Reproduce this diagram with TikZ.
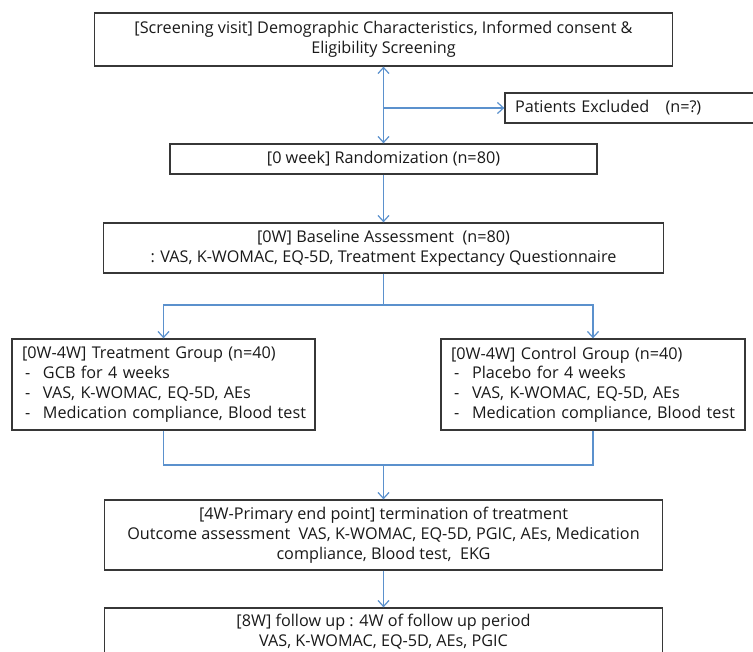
\documentclass[tikz,border=0pt]{standalone}
\usepackage{fontspec}
\setmainfont{Open Sans}
\usetikzlibrary{arrows.meta}
\definecolor{conn}{RGB}{91,145,205}
\definecolor{boxline}{RGB}{55,55,55}
\definecolor{txt}{RGB}{25,25,25}
\tikzset{
  box/.style={draw=boxline, line width=1.3pt, inner sep=0pt, text=txt,
    font=\fontsize{16.2}{19.8}\selectfont, align=center},
  lbox/.style={box, align=left, inner xsep=10pt},
  conline/.style={draw=conn, line width=1.2pt},
  arr/.style={conline, -{Straight Barb[length=6pt,width=11pt,line width=1.2pt]}},
  darr/.style={conline, {Straight Barb[length=6pt,width=11pt,line width=1.2pt]}-{Straight Barb[length=6pt,width=11pt,line width=1.2pt]}}
}
\newcommand{\itm}[1]{\mbox{\makebox[21pt][l]{\hspace{3pt}-}#1}}
\begin{document}
\begin{tikzpicture}[x=1pt,y=-1pt]
\useasboundingbox (0,0) rectangle (753,652);
\node[box, minimum width=578pt, minimum height=53pt] (top) at (383.5,39.5)
  {[Screening visit] Demographic Characteristics, Informed consent \&\\Eligibility Screening};
\node[lbox, text width=275pt, minimum height=30pt] (excl) at (652.5,108)
  {Patients Excluded \ \ (n=?)};
\node[box, minimum width=427pt, minimum height=30pt] (rand) at (383.5,159)
  {[0 week] Randomization (n=80)};
\node[box, minimum width=560pt, minimum height=50pt] (base) at (383.5,248)
  {[0W] Baseline Assessment \ (n=80)\\: VAS, K-WOMAC, EQ-5D, Treatment Expectancy Questionnaire};
\node[lbox, text width=283pt, minimum height=91pt] (treat) at (163.5,384.5)
  {[0W-4W] Treatment Group (n=40)\\\itm{GCB for 4 weeks}\\\itm{VAS, K-WOMAC, EQ-5D, AEs}\\\itm{Medication compliance, Blood test}};
\node[lbox, text width=284pt, minimum height=91pt] (ctrl) at (593,384.5)
  {[0W-4W] Control Group (n=40)\\\itm{Placebo for 4 weeks}\\\itm{VAS, K-WOMAC, EQ-5D, AEs}\\\itm{Medication compliance, Blood test}};
\node[box, minimum width=558pt, minimum height=70pt] (wk4) at (383.5,535)
  {[4W-Primary end point] termination of treatment\\Outcome assessment \ VAS, K-WOMAC, EQ-5D, PGIC, AEs, Medication\\compliance, Blood test, \ EKG};
\node[box, minimum width=558pt, minimum height=48pt] (wk8) at (383.5,632)
  {[8W] follow up : 4W of follow up period\\VAS, K-WOMAC, EQ-5D, AEs, PGIC};
\coordinate (br) at (383.5,108);
\coordinate (split) at (383.5,305);
\coordinate (merge) at (383.5,465);
\draw[darr] (top.south) -- (rand.north);
\draw[arr] (br) -- (excl.west);
\draw[arr] (rand.south) -- (base.north);
\draw[conline] (base.south) -- (split);
\draw[arr] (split) -| (treat.north);
\draw[arr] (split) -| (ctrl.north);
\draw[conline] (treat.south) |- (merge);
\draw[conline] (ctrl.south) |- (merge);
\draw[arr] (merge) -- (wk4.north);
\draw[arr] (wk4.south) -- (wk8.north);
\end{tikzpicture}
\end{document}
